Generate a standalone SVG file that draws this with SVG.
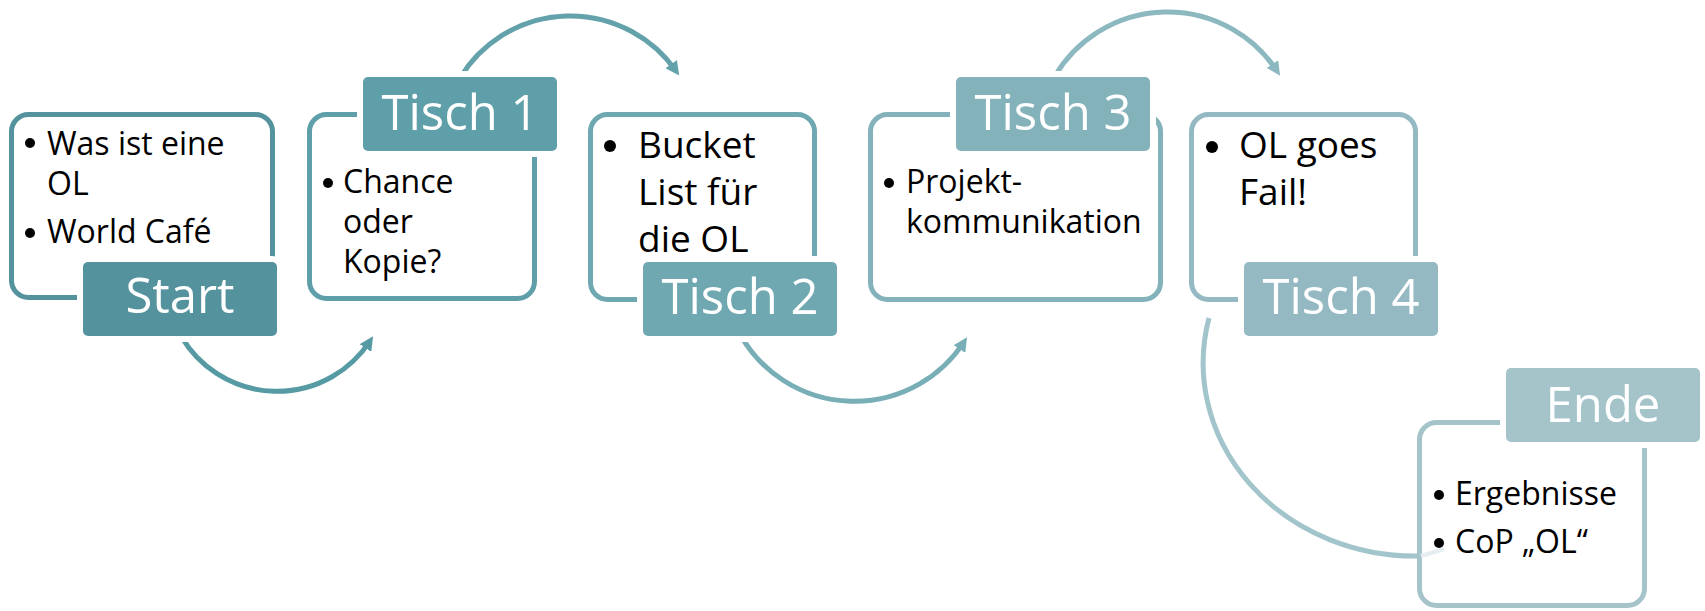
<svg xmlns="http://www.w3.org/2000/svg" width="1705" height="611" viewBox="0 0 1705 611">
<defs>
<style>
.box{fill:#fff;stroke-width:5}
.lbl{stroke:#fff;stroke-width:12;paint-order:stroke}
.lt{font-family:"Open Sans","Noto Sans",sans-serif;font-size:49px;fill:#fff;text-anchor:middle}
.bt{font-family:"Open Sans","Noto Sans",sans-serif;font-size:32px;fill:#000}
.bt2{font-family:"Open Sans","Noto Sans",sans-serif;font-size:37px;fill:#000}
.con{fill:none;stroke-width:5}
</style>
<marker id="a1" viewBox="0 0 10 10" refX="6" refY="5" markerUnits="userSpaceOnUse" markerWidth="14" markerHeight="14" orient="auto"><path d="M0,0 L10,5 L0,10 z" fill="#569AA3"/></marker>
<marker id="a2" viewBox="0 0 10 10" refX="6" refY="5" markerUnits="userSpaceOnUse" markerWidth="14" markerHeight="14" orient="auto"><path d="M0,0 L10,5 L0,10 z" fill="#63A2AB"/></marker>
<marker id="a3" viewBox="0 0 10 10" refX="6" refY="5" markerUnits="userSpaceOnUse" markerWidth="14" markerHeight="14" orient="auto"><path d="M0,0 L10,5 L0,10 z" fill="#78AEB6"/></marker>
<marker id="a4" viewBox="0 0 10 10" refX="6" refY="5" markerUnits="userSpaceOnUse" markerWidth="14" markerHeight="14" orient="auto"><path d="M0,0 L10,5 L0,10 z" fill="#8CB8C0"/></marker>
</defs>
<rect width="1705" height="611" fill="#fff"/>
<g id="connectors">
<path class="con" stroke="#569AA3" d="M181,336 A111,111 0 0 0 370,341" marker-end="url(#a1)"/>
<path class="con" stroke="#63A2AB" d="M460,78 A129,129 0 0 1 676,71" marker-end="url(#a2)"/>
<path class="con" stroke="#78AEB6" d="M741,336 A131,131 0 0 0 964,342" marker-end="url(#a3)"/>
<path class="con" stroke="#8CB8C0" d="M1055,76 A131,131 0 0 1 1277,71" marker-end="url(#a4)"/>
<path class="con" stroke="#A2C5CB" d="M1209,318 A212,193 0 0 0 1419,556"/>
</g>
<g id="start">
<rect class="box" stroke="#54939D" x="11.5" y="114.5" width="261" height="183" rx="17"/>
<circle cx="30" cy="143" r="5"/>
<text class="bt" x="47" y="155">Was ist eine</text>
<text class="bt" x="47" y="195">OL</text>
<circle cx="30" cy="233" r="5"/>
<text class="bt" x="47" y="243">World Café</text>
<rect class="lbl" fill="#54939D" x="83" y="262" width="194" height="74" rx="5"/>
<text class="lt" x="180" y="313">Start</text>
</g>
<g id="tisch1">
<rect class="box" stroke="#5F9FA9" x="309.5" y="114.5" width="225" height="184" rx="17"/>
<circle cx="328" cy="183" r="5"/>
<text class="bt" x="343" y="193">Chance</text>
<text class="bt" x="343" y="233">oder</text>
<text class="bt" x="343" y="273">Kopie?</text>
<rect class="lbl" fill="#5F9FA9" x="363" y="77" width="194" height="74" rx="5"/>
<text class="lt" x="460" y="130">Tisch 1</text>
</g>
<g id="tisch2">
<rect class="box" stroke="#70A8B1" x="590.5" y="114.5" width="224" height="185" rx="17"/>
<circle cx="610" cy="146" r="6"/>
<text class="bt2" x="638" y="158">Bucket</text>
<text class="bt2" x="638" y="205">List für</text>
<text class="bt2" x="638" y="252">die OL</text>
<rect class="lbl" fill="#70A8B1" x="643" y="262" width="194" height="74" rx="5"/>
<text class="lt" x="740" y="314">Tisch 2</text>
</g>
<g id="tisch3">
<rect class="box" stroke="#83B2BA" x="870.5" y="114.5" width="290" height="185" rx="17"/>
<circle cx="889" cy="183" r="5"/>
<text class="bt" x="906" y="193">Projekt-</text>
<text class="bt" x="906" y="233">kommunikation</text>
<rect class="lbl" fill="#83B2BA" x="956" y="77" width="194" height="74" rx="5"/>
<text class="lt" x="1053" y="130">Tisch 3</text>
</g>
<g id="tisch4">
<rect class="box" stroke="#94B9C2" x="1191.5" y="114.5" width="224" height="185" rx="17"/>
<circle cx="1212" cy="147" r="6"/>
<text class="bt2" x="1239" y="158">OL goes</text>
<text class="bt2" x="1239" y="205">Fail!</text>
<rect class="lbl" fill="#94B9C2" x="1244" y="262" width="194" height="74" rx="5"/>
<text class="lt" x="1341" y="314">Tisch 4</text>
</g>
<g id="ende">
<rect class="box" stroke="#A4C4CA" x="1419.5" y="422.5" width="225" height="183" rx="17"/>
<path d="M1421,556 L1444,549" stroke="#E4EEF0" stroke-width="4" fill="none"/>
<circle cx="1439" cy="495" r="5"/>
<text class="bt" x="1455" y="505">Ergebnisse</text>
<circle cx="1439" cy="543" r="5"/>
<text class="bt" x="1455" y="553">CoP „OL“</text>
<rect class="lbl" fill="#A4C4CA" x="1506" y="368" width="194" height="74" rx="5"/>
<text class="lt" x="1603" y="422">Ende</text>
</g>
</svg>
